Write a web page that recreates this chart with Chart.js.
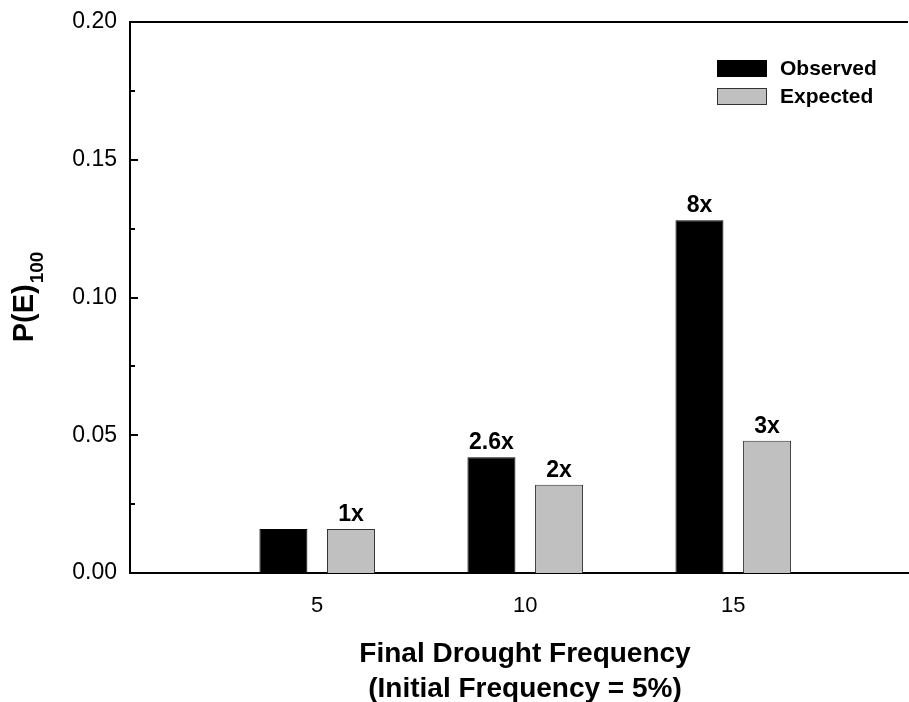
<!DOCTYPE html>
<html>
<head>
<meta charset="utf-8">
<script src="https://cdn.jsdelivr.net/npm/chart.js@4.4.0/dist/chart.umd.min.js"></script>
<style>
  html, body { margin: 0; padding: 0; background: #fff; }
  #wrap { width: 909px; height: 702px; }
</style>
</head>
<body>
<div id="wrap"><canvas id="chart" width="909" height="702"></canvas></div>
<script>
// values
const droughtFreq = [5, 10, 15];
const observed = [0.016, 0.042, 0.128];
const expected = [0.016, 0.032, 0.048];
const observedLabels = ['', '2.6x', '8x'];
const expectedLabels = ['1x', '2x', '3x'];
const yTicks = [0, 0.05, 0.10, 0.15, 0.20];

const FONT = '"Liberation Sans", Arial, Helvetica, sans-serif';

// ticks point into the plot, long at labelled values, short between
const insideTicks = {
  id: 'insideTicks',
  afterDraw(chart) {
    const ctx = chart.ctx;
    const y = chart.scales.y;
    const area = chart.chartArea;
    ctx.save();
    ctx.strokeStyle = '#000';
    ctx.lineWidth = 2;
    y.ticks.forEach((t) => {
      const major = yTicks.some((v) => Math.abs(v - t.value) < 1e-9);
      const py = Math.round(y.getPixelForValue(t.value));
      if (t.value === 0) return;
      ctx.beginPath();
      ctx.moveTo(area.left, py);
      ctx.lineTo(area.left + (major ? 8 : 5), py);
      ctx.stroke();
    });
    // top frame line
    ctx.beginPath();
    ctx.moveTo(area.left - 1, area.top);
    ctx.lineTo(area.right, area.top);
    ctx.stroke();
    ctx.restore();
  }
};

const barLabels = {
  id: 'barLabels',
  afterDatasetsDraw(chart) {
    const ctx = chart.ctx;
    const sets = [observedLabels, expectedLabels];
    ctx.save();
    ctx.font = 'bold 23px ' + FONT;
    ctx.fillStyle = '#000';
    ctx.textAlign = 'center';
    ctx.textBaseline = 'alphabetic';
    sets.forEach((labels, d) => {
      chart.getDatasetMeta(d).data.forEach((bar, i) => {
        if (labels[i]) ctx.fillText(labels[i], bar.x, bar.y - 8);
      });
    });
    ctx.restore();
  }
};

const legendAndTitles = {
  id: 'legendAndTitles',
  afterDraw(chart) {
    const ctx = chart.ctx;
    const area = chart.chartArea;
    ctx.save();

    // legend
    const lx = 717;
    ctx.font = 'bold 21px ' + FONT;
    ctx.textBaseline = 'middle';
    ctx.textAlign = 'left';
    chart.data.datasets.forEach((ds, i) => {
      const ly = 60 + i * 28;
      ctx.fillStyle = ds.backgroundColor;
      ctx.fillRect(lx, ly, 50, 17);
      ctx.strokeStyle = ds.borderColor;
      ctx.lineWidth = 1;
      ctx.strokeRect(lx + 0.5, ly + 0.5, 49, 16);
      ctx.fillStyle = '#000';
      ctx.fillText(ds.label, lx + 63, ly + 9);
    });

    // x axis title
    ctx.textAlign = 'center';
    ctx.textBaseline = 'alphabetic';
    ctx.font = 'bold 28px ' + FONT;
    ctx.fillText('Final Drought Frequency', 525, 662);
    ctx.fillText('(Initial Frequency = 5%)', 525, 697);

    // y axis title with subscript
    const cy = (area.top + area.bottom) / 2;
    ctx.translate(33, cy);
    ctx.rotate(-Math.PI / 2);
    ctx.textAlign = 'left';
    ctx.font = 'bold 29px ' + FONT;
    const main = 'P(E)';
    const w1 = ctx.measureText(main).width;
    ctx.font = 'bold 19px ' + FONT;
    const w2 = ctx.measureText('100').width;
    const x0 = -(w1 + w2) / 2;
    ctx.font = 'bold 29px ' + FONT;
    ctx.fillText(main, x0, 0);
    ctx.font = 'bold 19px ' + FONT;
    ctx.fillText('100', x0 + w1 + 1, 10);
    ctx.restore();
  }
};

const ctx = document.getElementById('chart').getContext('2d');
new Chart(ctx, {
  type: 'bar',
  data: {
    datasets: [
      {
        label: 'Observed',
        data: droughtFreq.map((x, i) => ({ x, y: observed[i] })),
        backgroundColor: '#000000',
        borderColor: '#000000',
        borderWidth: 1,
        categoryPercentage: 0.65,
        barPercentage: 0.71
      },
      {
        label: 'Expected',
        data: droughtFreq.map((x, i) => ({ x, y: expected[i] })),
        backgroundColor: '#c0c0c0',
        borderColor: '#333333',
        borderWidth: 1,
        categoryPercentage: 0.65,
        barPercentage: 0.71
      }
    ]
  },
  options: {
    responsive: false,
    animation: false,
    layout: { padding: { top: 22, right: 1, left: 0, bottom: 0 } },
    plugins: {
      legend: { display: false },
      tooltip: { enabled: false }
    },
    scales: {
      x: {
        type: 'linear',
        offset: false,
        min: 0.5,
        max: 19.2,
        afterBuildTicks: (s) => { s.ticks = droughtFreq.map((v) => ({ value: v })); },
        afterFit: (s) => { s.height = 129; },
        grid: { display: false, offset: false },
        border: { display: true, color: '#000', width: 2 },
        ticks: {
          color: '#000',
          font: { family: FONT, size: 22 },
          padding: 12,
          maxRotation: 0,
          callback: (v) => String(v)
        }
      },
      y: {
        min: 0,
        max: 0.2,
        afterFit: (s) => { s.width = 130; },
        grid: { display: false },
        border: { display: true, color: '#000', width: 2 },
        ticks: {
          stepSize: 0.025,
          color: '#000',
          font: { family: FONT, size: 23 },
          padding: 5,
          callback: (v) => yTicks.some((t) => Math.abs(t - v) < 1e-9) ? v.toFixed(2) : ''
        }
      }
    }
  },
  plugins: [insideTicks, barLabels, legendAndTitles]
});
</script>
</body>
</html>
